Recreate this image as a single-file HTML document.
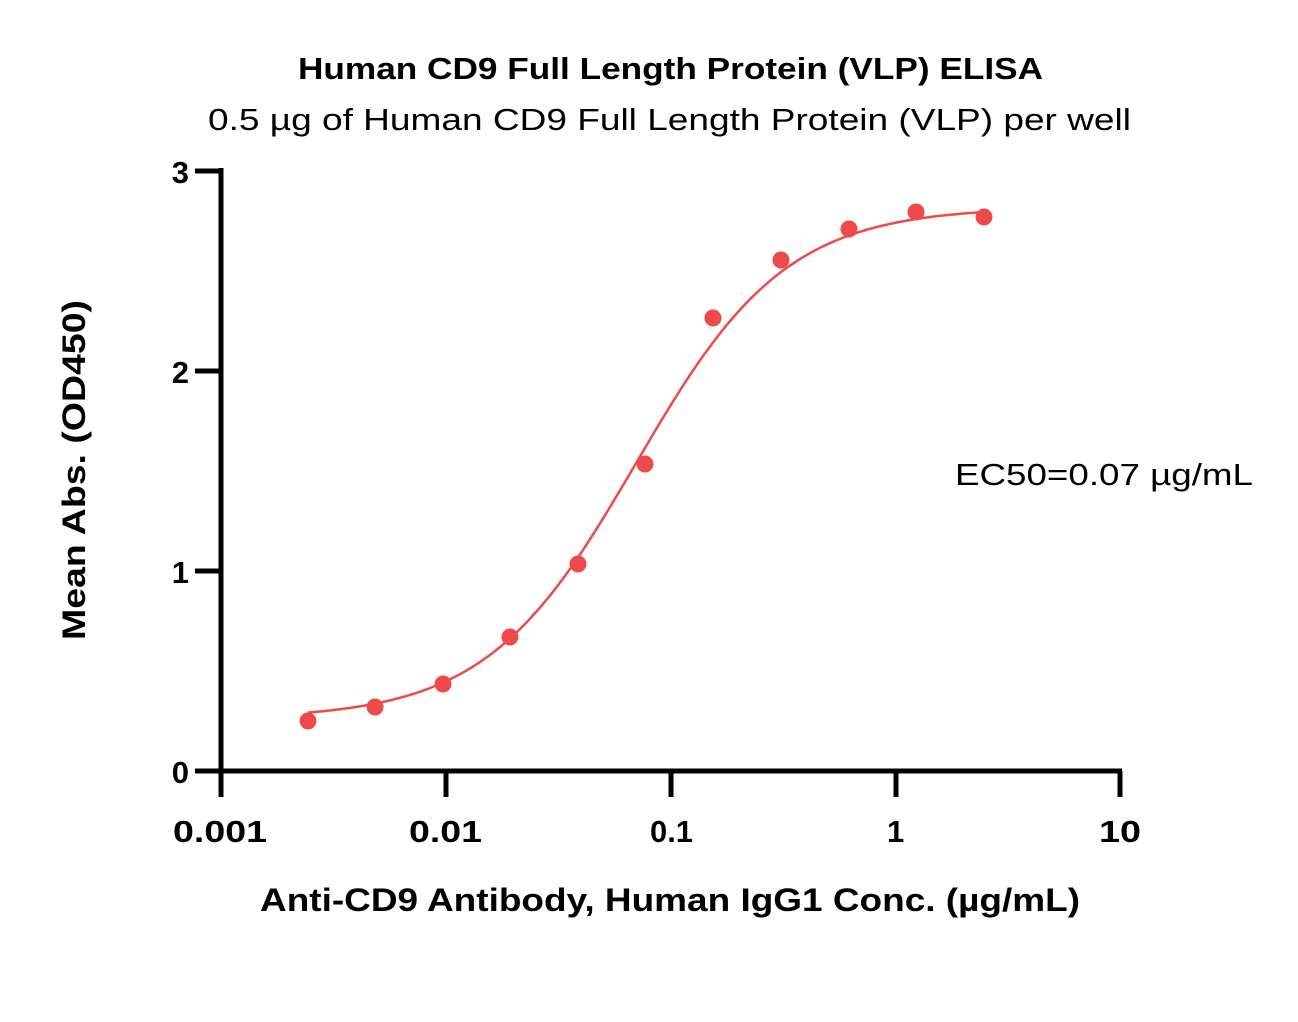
<!DOCTYPE html>
<html><head><meta charset="utf-8"><style>
body{margin:0;background:#fff;}
svg text{font-family:"Liberation Sans",sans-serif;}
</style></head><body>
<svg id="s" width="1298" height="1017" viewBox="0 0 1298 1017" xmlns="http://www.w3.org/2000/svg">
<rect width="1298" height="1017" fill="#fff"/>
<text x="298" y="79" font-size="31" font-weight="bold" textLength="745" lengthAdjust="spacingAndGlyphs">Human CD9 Full Length Protein (VLP) ELISA</text>
<text x="208" y="130" font-size="31" textLength="923" lengthAdjust="spacingAndGlyphs">0.5 µg of Human CD9 Full Length Protein (VLP) per well</text>
<g stroke="#000" stroke-width="5" fill="none">
<line x1="221" y1="168" x2="221" y2="772"/>
<line x1="219" y1="771" x2="1122" y2="771"/>
<line x1="195" y1="171" x2="221" y2="171"/>
<line x1="195" y1="371" x2="221" y2="371"/>
<line x1="195" y1="571" x2="221" y2="571"/>
<line x1="195" y1="771" x2="221" y2="771"/>
<line x1="221" y1="771" x2="221" y2="797"/>
<line x1="446" y1="771" x2="446" y2="797"/>
<line x1="671" y1="771" x2="671" y2="797"/>
<line x1="896" y1="771" x2="896" y2="797"/>
<line x1="1120" y1="771" x2="1120" y2="797"/>
</g>
<g font-size="31" font-weight="bold" text-anchor="end">
<text x="189" y="183">3</text><text x="189" y="383">2</text><text x="189" y="583">1</text><text x="189" y="783">0</text>
</g>
<g font-size="31" font-weight="bold">
<text x="173" y="842" textLength="94" lengthAdjust="spacingAndGlyphs">0.001</text>
<text x="409" y="842" textLength="73" lengthAdjust="spacingAndGlyphs">0.01</text>
<text x="650" y="842" textLength="43" lengthAdjust="spacingAndGlyphs">0.1</text>
<text x="887" y="842">1</text>
<text x="1099" y="842" textLength="42" lengthAdjust="spacingAndGlyphs">10</text>
</g>
<text x="260" y="911" font-size="32" font-weight="bold" textLength="820" lengthAdjust="spacingAndGlyphs">Anti-CD9 Antibody, Human IgG1 Conc. (µg/mL)</text>
<text transform="translate(85,640) rotate(-90)" font-size="32" font-weight="bold" textLength="340" lengthAdjust="spacingAndGlyphs">Mean Abs. (OD450)</text>
<text x="955" y="485" font-size="31" textLength="298" lengthAdjust="spacingAndGlyphs">EC50=0.07 µg/mL</text>
<path id="c" fill="none" stroke="#ef4a4a" stroke-width="2.5"/>
<g fill="#ef4a4a" id="pts"></g>
</svg>
<script>
var b=0.26,t=2.82,ec=0.07,h=1.3,d="";
for(var px=308;px<=985;px+=3){var x=Math.pow(10,-3+(px-221)/225);var y=b+(t-b)/(1+Math.pow(ec/x,h));d+=(d?"L":"M")+px+","+(771-200*y).toFixed(1);}
document.getElementById("c").setAttribute("d",d);
var P=[[308,721],[375,707],[443,684],[510,637],[578,564],[645,464],[713,318],[781,260],[849,229],[916,212],[984,217]],g=document.getElementById("pts"),s="";
P.forEach(function(p){s+='<circle cx="'+p[0]+'" cy="'+p[1]+'" r="8.5"/>';});g.innerHTML=s;
</script>
</body></html>
